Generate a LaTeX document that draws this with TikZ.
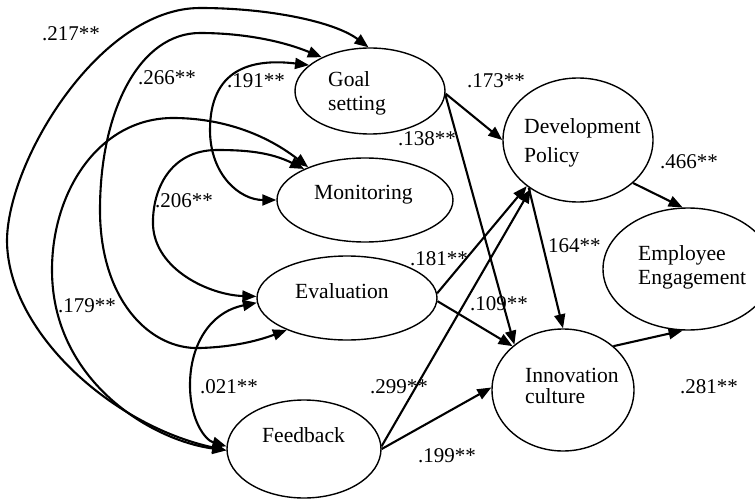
\documentclass[tikz,border=0pt]{standalone}
\usepackage{fontspec}
\setmainfont{Liberation Serif}
\usetikzlibrary{shapes.geometric,arrows.meta}
\begin{document}
\begin{tikzpicture}[x=1pt,y=-1pt,
  var/.style={draw,ellipse,line width=1.4pt,inner sep=0pt},
  txt/.style={anchor=base west,inner sep=0pt,font=\fontsize{21.6}{24}\selectfont},
  lbl/.style={anchor=base west,inner sep=0pt,font=\fontsize{21}{24}\selectfont},
  arr/.style={line width=2.1pt,-{Triangle[length=14pt,width=11pt]}},
  cor/.style={line width=2.1pt,{Triangle[length=14pt,width=11pt]}-{Triangle[length=14pt,width=11pt]}},
]
\useasboundingbox (0,0) rectangle (755,500);

% variables
\node[var,minimum width=150pt,minimum height=86pt] (goal) at (370,91) {};
\node[var,minimum width=176pt,minimum height=84pt] (mon) at (365,200) {};
\node[var,minimum width=180pt,minimum height=84pt] (eval) at (347,298) {};
\node[var,minimum width=154pt,minimum height=98pt] (feed) at (304,449) {};
\node[var,minimum width=150pt,minimum height=124pt] (dev) at (578,140) {};
\node[var,minimum width=170pt,minimum height=122pt] (emp) at (688,269) {};
\node[var,minimum width=142pt,minimum height=122pt] (inno) at (563,390) {};

% texts
\node[txt] (goalA) at (328,87) {Goal};
\node[txt] (goalB) at (328,111) {setting};
\node[txt] (monT) at (314,199) {Monitoring};
\node[txt] (evalT) at (295,298) {Evaluation};
\node[txt] (feedT) at (262,442) {Feedback};
\node[txt] (devA) at (524,134) {Development};
\node[txt] (devB) at (524,162) {Policy};
\node[txt] (empA) at (638,260) {Employee};
\node[txt] (empB) at (638,284) {Engagement};
\node[txt] (innoA) at (525,382) {Innovation};
\node[txt] (innoB) at (525,403) {culture};

% labels
\node[lbl] (l217) at (42,41) {.217**};
\node[lbl] (l266) at (138,85) {.266**};
\node[lbl] (l191) at (227,88) {.191**};
\node[lbl] (l206) at (155,207) {.206**};
\node[lbl] (l179) at (58,312) {.179**};
\node[lbl] (l021) at (200,393) {.021**};
\node[lbl] (l173) at (467,88) {.173**};
\node[lbl] (l138) at (398,146) {.138**};
\node[lbl] (l466) at (660,168) {.466**};
\node[lbl] (l164) at (548,252) {164**};
\node[lbl] (l181) at (410,265) {.181**};
\node[lbl] (l109) at (470,310) {.109**};
\node[lbl] (l299) at (370,393) {.299**};
\node[lbl] (l199) at (418,462) {.199**};
\node[lbl] (l281) at (680,393) {.281**};

% straight paths
\draw[arr] (goal.-2) -- (dev.180);
\draw[arr] (goal.-3) -- (inno.137);
\draw[arr] (eval.3) -- (dev.222);
\draw[arr] (eval.-2) -- (inno.139);
\draw[arr] (feed.2) -- (dev.226);
\draw[arr] (feed.0) -- (inno.178);
\draw[arr] (dev.224) -- (inno.90);
\draw[arr] (dev.-38) -- (emp.95);
\draw[arr] (inno.41) -- (emp.-95);

% correlations
\draw[cor] (feed.181) .. controls (110,425) and (7,330) .. (7,240)
  .. controls (8,160) and (100,8) .. (200,8)
  .. controls (270,8) and (335,22) .. (goal.92);
\draw[cor] (eval.208) .. controls (260,340) and (235,347) .. (200,348)
  .. controls (150,350) and (100,300) .. (100,210)
  .. controls (100,110) and (140,33) .. (200,33)
  .. controls (240,33) and (280,40) .. (goal.145);
\draw[cor] (goal.157) .. controls (250,58) and (210,70) .. (210,130)
  .. controls (210,175) and (240,200) .. (mon.180);
\draw[cor] (mon.150) .. controls (260,130) and (215,118) .. (173,118)
  .. controls (100,118) and (52,190) .. (52,270)
  .. controls (52,380) and (150,440) .. (feed.181);
\draw[cor] (mon.153) .. controls (270,152) and (245,150) .. (217,150)
  .. controls (170,150) and (152,190) .. (153,225)
  .. controls (155,270) and (210,295) .. (eval.179);
\draw[cor] (eval.183) .. controls (210,312) and (190,345) .. (190,385)
  .. controls (190,420) and (205,440) .. (feed.178);
\end{tikzpicture}
\end{document}
